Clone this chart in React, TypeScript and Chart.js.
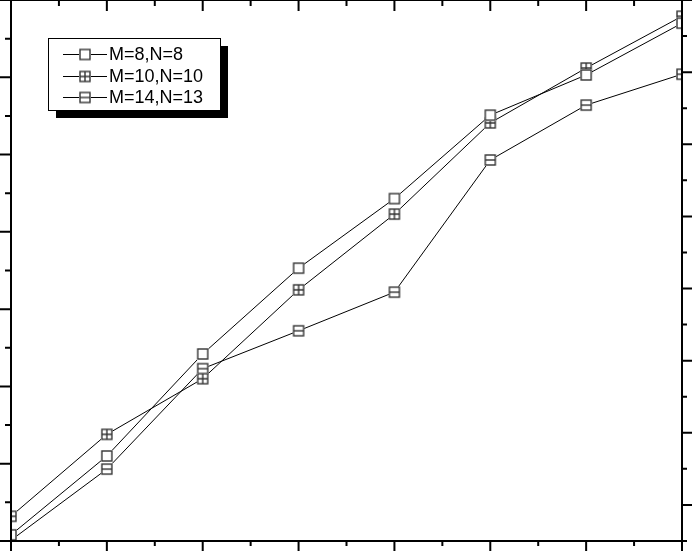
import { useEffect, useRef } from 'react'
import { Chart, registerables, Plugin } from 'chart.js'

Chart.register(...registerables)

// x positions (major ticks) and the three curves
const xValues = [0, 1, 2, 3, 4, 5, 6, 7]
const seriesLabels = ['M=8,N=8', 'M=10,N=10', 'M=14,N=13']
const m8 = [0.8, 11.0, 24.2, 35.3, 44.3, 55.1, 60.3, 67.0]
const m10 = [3.2, 13.8, 21.0, 32.5, 42.3, 54.1, 61.2, 67.9]
const m14 = [0.1, 9.3, 22.3, 27.2, 32.2, 49.3, 56.4, 60.4]

type MarkerKind = 'open' | 'cross' | 'bar'
const markerKinds: MarkerKind[] = ['open', 'cross', 'bar']

function makeMarker(kind: MarkerKind) {
  const c = document.createElement('canvas')
  c.width = 14
  c.height = 14
  const g = c.getContext('2d')!
  g.fillStyle = '#fff'
  g.fillRect(1, 1, 12, 12)
  g.strokeStyle = '#333'
  g.lineWidth = 1.4
  g.strokeRect(2, 2, 10, 10)
  if (kind !== 'open') {
    g.beginPath()
    g.moveTo(2, 7)
    g.lineTo(12, 7)
    if (kind === 'cross') {
      g.moveTo(7, 2)
      g.lineTo(7, 12)
    }
    g.stroke()
  }
  return c
}

// frame + major/minor tick marks (Origin style)
const framePlugin: Plugin<'line'> = {
  id: 'frame',
  afterDraw(chart) {
    const { ctx, chartArea: a, scales } = chart
    const x = scales.x
    const y = scales.y
    const y2 = scales.y2
    ctx.save()
    ctx.strokeStyle = '#000'
    ctx.lineWidth = 2
    ctx.strokeRect(a.left, a.top, a.right - a.left, a.bottom - a.top)
    ctx.beginPath()
    for (let v = 0; v <= 7.001; v += 0.5) {
      const major = Math.abs(v - Math.round(v)) < 1e-6
      const px = x.getPixelForValue(v)
      const len = major ? 10 : 5
      ctx.moveTo(px, a.bottom)
      ctx.lineTo(px, a.bottom + len)
      ctx.moveTo(px, a.top)
      ctx.lineTo(px, a.top + len + 1)
    }
    for (let v = 0; v <= 70.001; v += 5) {
      const major = v % 10 === 0
      const py = y.getPixelForValue(v)
      ctx.moveTo(a.left, py)
      ctx.lineTo(a.left - (major ? 11 : 6), py)
    }
    for (let v = 15; v <= 90.001; v += 5) {
      const major = v % 10 === 0
      const py = y2.getPixelForValue(v)
      ctx.moveTo(a.right, py)
      ctx.lineTo(a.right + (major ? 10 : 5), py)
    }
    ctx.stroke()
    ctx.restore()
  },
}

const legendPlugin: Plugin<'line'> = {
  id: 'boxLegend',
  afterDraw(chart) {
    const { ctx } = chart
    const left = 48
    const top = 38
    const w = 172
    const h = 72
    ctx.save()
    ctx.fillStyle = '#000'
    ctx.fillRect(left + 8, top + 8, w, h)
    ctx.fillStyle = '#fff'
    ctx.fillRect(left, top, w, h)
    ctx.strokeStyle = '#000'
    ctx.lineWidth = 1
    ctx.strokeRect(left + 0.5, top + 0.5, w, h)
    const rows = [54, 76, 97]
    chart.data.datasets.forEach((ds, i) => {
      const ry = rows[i]
      ctx.beginPath()
      ctx.strokeStyle = '#000'
      ctx.lineWidth = 1
      ctx.moveTo(63, ry + 0.5)
      ctx.lineTo(107, ry + 0.5)
      ctx.stroke()
      const img = ds.pointStyle as HTMLCanvasElement
      ctx.drawImage(img, 85 - img.width / 2, ry - img.height / 2 + 0.5)
      ctx.fillStyle = '#000'
      ctx.font = '18px "Liberation Sans", Arial, sans-serif'
      ctx.textBaseline = 'middle'
      ctx.fillText(ds.label as string, 109, ry + 1)
    })
    ctx.restore()
  },
}

export default function App() {
  const canvasRef = useRef<HTMLCanvasElement>(null)

  useEffect(() => {
    document.body.style.margin = '0'
    if (!canvasRef.current) return
    const series = [m8, m10, m14]
    const chart = new Chart(canvasRef.current, {
      type: 'line',
      data: {
        datasets: series.map((vals, i) => ({
          label: seriesLabels[i],
          data: vals.map((v, j) => ({ x: xValues[j], y: v })),
          borderColor: '#000',
          borderWidth: 1,
          pointStyle: makeMarker(markerKinds[i]),
          pointRadius: 6,
          tension: 0,
          clip: 0,
        })),
      },
      options: {
        animation: false,
        responsive: false,
        layout: { autoPadding: false, padding: { left: 11, right: 10, top: 0, bottom: 10 } },
        plugins: { legend: { display: false }, tooltip: { enabled: false } },
        scales: {
          x: { type: 'linear', min: 0, max: 7, display: false },
          y: { min: 0, max: 70, display: false },
          y2: { position: 'right', min: 15, max: 90, display: false },
        },
      },
      plugins: [framePlugin, legendPlugin],
    })
    return () => chart.destroy()
  }, [])

  return (
    <div style={{ width: 692, height: 551 }}>
      <canvas ref={canvasRef} width={692} height={551} />
    </div>
  )
}
